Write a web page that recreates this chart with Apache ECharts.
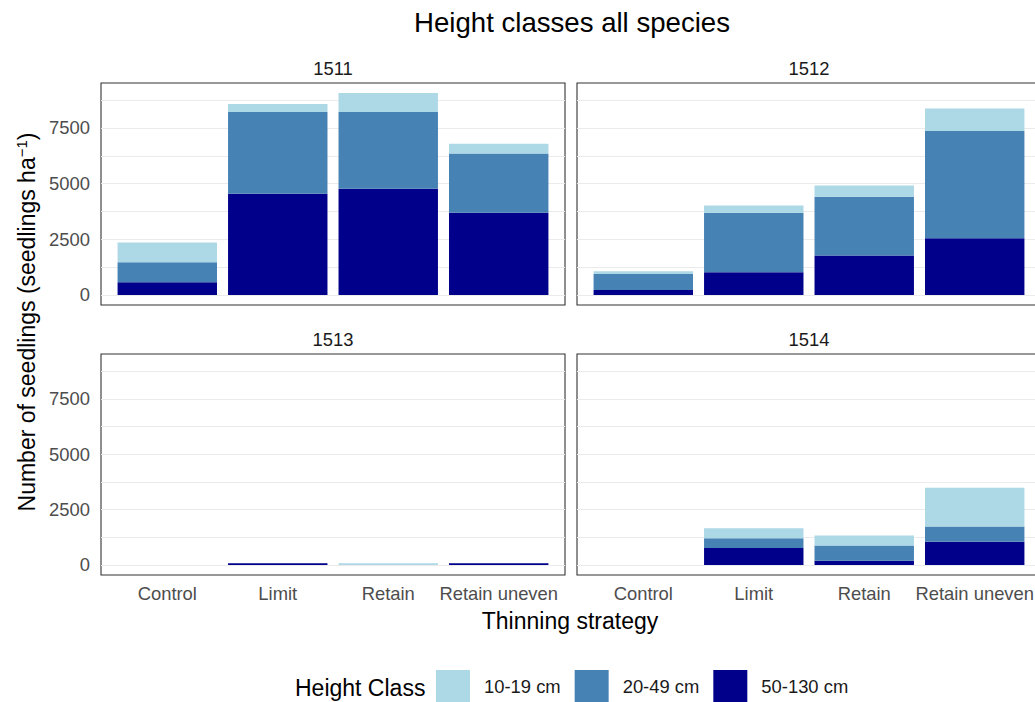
<!DOCTYPE html>
<html>
<head>
<meta charset="utf-8">
<title>Height classes all species</title>
<script src="https://cdn.jsdelivr.net/npm/echarts@6/dist/echarts.min.js"></script>
<style>
  html, body { margin: 0; padding: 0; background: #ffffff; }
  #chart { width: 1035px; height: 702px; }
</style>
</head>
<body>
<div id="chart"></div>
<script>
// Thinning strategies on the x axis of every panel
const categories = ['Control', 'Limit', 'Retain', 'Retain uneven'];
// One facet per site
const sites = ['1511', '1512', '1513', '1514'];
// Height classes, legend order
const heightClasses = ['10-19 cm', '20-49 cm', '50-130 cm'];
const classColors = ['#ADD8E6', '#4682B4', '#00008B'];

// Seedlings per ha, one row per site (1511, 1512, 1513, 1514), columns follow categories
const seedlings10to19 = [
  [895, 359, 851, 448],
  [121, 327, 507, 1013],
  [0, 0, 80, 0],
  [0, 448, 448, 1748]
];
const seedlings20to49 = [
  [895, 3673, 3449, 2656],
  [717, 2675, 2643, 4825],
  [0, 0, 0, 0],
  [0, 448, 687, 687]
];
const seedlings50to130 = [
  [570, 4543, 4767, 3692],
  [224, 1017, 1765, 2540],
  [0, 80, 0, 80],
  [0, 762, 194, 1045]
];

// Axis ticks
const yLabelTicks = [0, 2500, 5000, 7500];
const yGridTicks = [0, 1250, 2500, 3750, 5000, 6250, 7500, 8750];

const FONT = '"Liberation Sans", Arial, Helvetica, sans-serif';
const BASE = 23;              // axis / legend titles
const SMALL = BASE * 0.8;     // tick labels, strips, legend entries
const LARGE = BASE * 1.2;     // plot title

// Shared y range: 5% padding on both sides of the largest stacked total
let maxTotal = 0;
for (let s = 0; s < sites.length; s++) {
  for (let c = 0; c < categories.length; c++) {
    const t = seedlings10to19[s][c] + seedlings20to49[s][c] + seedlings50to130[s][c];
    if (t > maxTotal) maxTotal = t;
  }
}
const yMin = -0.05 * maxTotal;
const yMax = 1.05 * maxTotal;

// Facet layout (2 x 2); each frame spans from 0.6 band before the first
// category centre to 0.6 band after the last one
const panels = [
  { left: 101, top: 83, width: 464, height: 222 },
  { left: 577, top: 83, width: 464, height: 222 },
  { left: 101, top: 354, width: 464, height: 221 },
  { left: 577, top: 354, width: 464, height: 221 }
];
const EXPAND = 0.6;

const grids = [], xAxes = [], yAxes = [], series = [], graphics = [];
const nPanels = panels.length;

// Panel frames: border, horizontal grid lines and y tick labels
panels.forEach((p, i) => {
  grids.push({
    left: p.left, top: p.top, width: p.width, height: p.height,
    outerBoundsMode: 'none', containLabel: false,
    show: true, borderColor: '#333333', borderWidth: 1.1, backgroundColor: 'transparent'
  });
  xAxes.push({ gridIndex: i, type: 'value', min: 0, max: 1, show: false });
  yAxes.push({
    gridIndex: i, type: 'value', min: yMin, max: yMax,
    axisLine: { show: false, onZero: false },
    axisTick: { show: false, customValues: yGridTicks },
    splitLine: { show: true, lineStyle: { color: '#EBEBEB', width: 1.1 } },
    axisLabel: {
      show: i % 2 === 0, customValues: yLabelTicks, margin: 11,
      fontSize: SMALL, color: '#4D4D4D', fontFamily: FONT,
      formatter: v => String(v)
    }
  });
});

// Bar areas: category bands inside each frame
panels.forEach((p, i) => {
  const band = p.width / (categories.length - 1 + 2 * EXPAND);
  const g = nPanels + i;
  grids.push({
    left: p.left + (EXPAND - 0.5) * band, top: p.top,
    width: band * categories.length, height: p.height,
    outerBoundsMode: 'none', containLabel: false,
    show: false
  });
  xAxes.push({
    gridIndex: g, type: 'category', data: categories, boundaryGap: true,
    axisLine: { show: false, onZero: false },
    axisTick: { show: false },
    splitLine: { show: false },
    axisLabel: {
      show: i >= 2, margin: 9, interval: 0, hideOverlap: false,
      fontSize: SMALL, color: '#4D4D4D', fontFamily: FONT
    }
  });
  yAxes.push({ gridIndex: g, type: 'value', min: yMin, max: yMax, show: false, splitLine: { show: false } });

  // Stacked bottom-up: 50-130, 20-49, 10-19
  const stackOrder = [
    { name: heightClasses[2], color: classColors[2], values: seedlings50to130[i] },
    { name: heightClasses[1], color: classColors[1], values: seedlings20to49[i] },
    { name: heightClasses[0], color: classColors[0], values: seedlings10to19[i] }
  ];
  stackOrder.forEach(layer => {
    series.push({
      type: 'bar', name: layer.name,
      xAxisIndex: g, yAxisIndex: g, stack: 'site' + i,
      barWidth: '90%', silent: true,
      itemStyle: { color: layer.color },
      data: layer.values
    });
  });

  // Facet strip label
  graphics.push({
    type: 'text', x: p.left + p.width / 2, y: p.top - 15,
    style: {
      text: sites[i], align: 'center', verticalAlign: 'middle',
      fontSize: SMALL, fontFamily: FONT, fill: '#1A1A1A'
    }
  });
});

// Titles
graphics.push({
  type: 'text', x: 572, y: 22,
  style: { text: 'Height classes all species', align: 'center', verticalAlign: 'middle',
           fontSize: LARGE, fontFamily: FONT, fill: '#000000' }
});
graphics.push({
  type: 'text', x: 570, y: 621,
  style: { text: 'Thinning strategy', align: 'center', verticalAlign: 'middle',
           fontSize: BASE, fontFamily: FONT, fill: '#000000' }
});
graphics.push({
  type: 'text', x: 27, y: 322, rotation: Math.PI / 2,
  style: {
    text: '{a|Number of seedlings (seedlings ha}{b|\u22121}{a|)}',
    align: 'center', verticalAlign: 'middle', fontFamily: FONT, fill: '#000000',
    rich: {
      a: { fontSize: BASE, fontFamily: FONT, fill: '#000000', lineHeight: 27 },
      b: { fontSize: 15, fontFamily: FONT, fill: '#000000', verticalAlign: 'top', lineHeight: 15 }
    }
  }
});
graphics.push({
  type: 'text', x: 295, y: 688,
  style: { text: 'Height Class', align: 'left', verticalAlign: 'middle',
           fontSize: BASE, fontFamily: FONT, fill: '#000000' }
});

const chart = echarts.init(document.getElementById('chart'), null, { renderer: 'svg' });
chart.setOption({
  animation: false,
  backgroundColor: '#ffffff',
  textStyle: { fontFamily: FONT },
  grid: grids,
  xAxis: xAxes,
  yAxis: yAxes,
  series: series,
  legend: {
    data: heightClasses, left: 431, top: 665, padding: 5, orient: 'horizontal',
    icon: 'rect', itemWidth: 34, itemHeight: 32, itemGap: 14,
    selectedMode: false,
    textStyle: { fontSize: SMALL, color: '#1A1A1A', fontFamily: FONT, padding: [0, 0, 0, 9] }
  },
  graphic: graphics
});
</script>
</body>
</html>
